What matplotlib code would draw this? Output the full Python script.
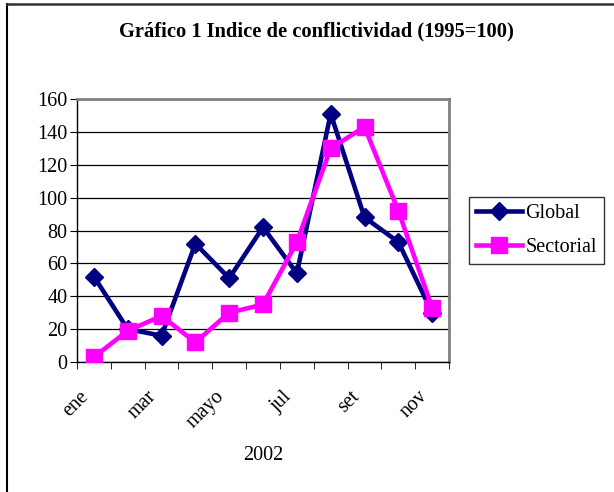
import numpy as np
import matplotlib.pyplot as plt
import matplotlib.transforms as mtransforms
from matplotlib.lines import Line2D

# datos
meses = ['ene', 'feb', 'mar', 'abr', 'mayo', 'jun', 'jul', 'ago', 'set', 'oct', 'nov']
global_idx = [52, 20, 16, 72, 51, 82, 54, 151, 88, 73, 30]
sectorial_idx = [3, 19, 28, 12, 30, 35, 73, 130, 143, 92, 33]

plt.rcParams['font.family'] = ['Liberation Serif', 'DejaVu Serif']
fs = 14.5

fig = plt.figure(figsize=(6.14, 4.92), dpi=100)
ax = fig.add_axes([0.1254, 0.2642, 0.606, 0.5346])

x = np.arange(len(meses))
ax.plot(x, global_idx, color='#000080', lw=3.3, marker='D', ms=9.5, label='Global', zorder=3)
ax.plot(x, sectorial_idx, color='#FF00FF', lw=3.3, marker='s', ms=11, label='Sectorial', zorder=4)

ax.set_xlim(-0.5, len(meses) - 0.5)
ax.set_ylim(0, 160)
ax.set_yticks(range(0, 161, 20))
ax.yaxis.grid(True, color='black', lw=0.9)
ax.set_axisbelow(True)

# ticks entre categorias, etiquetas cada dos meses
ax.set_xticks(x[::2])
ax.set_xticklabels(meses[::2], rotation=45, ha='right', va='center', rotation_mode='anchor', fontsize=fs)
ax.tick_params(axis='x', length=0, pad=23)
shift = mtransforms.ScaledTranslation(-8 / 100, 0, fig.dpi_scale_trans)
for lbl in ax.get_xticklabels():
    lbl.set_transform(lbl.get_transform() + shift)
ax.set_xticks(np.arange(-0.5, len(meses), 1), minor=True)
ax.tick_params(axis='x', which='minor', length=5, color='black')
ax.tick_params(axis='y', labelsize=fs, length=5, color='black', pad=2)

for s in ['top', 'right']:
    ax.spines[s].set_color('#808080')
    ax.spines[s].set_linewidth(2)
for s in ['left', 'bottom']:
    ax.spines[s].set_color('black')
    ax.spines[s].set_linewidth(1)

ax.set_xlabel('2002', fontsize=fs, labelpad=10)
fig.text(0.516, 0.935, 'Gráfico 1 Indice de conflictividad (1995=100)', ha='center', va='center',
         fontsize=14.8, fontweight='bold')

leg = ax.legend(loc='center left', bbox_to_anchor=(1.054, 0.5), fontsize=fs, frameon=True,
                fancybox=False, edgecolor='black', borderpad=0.35, handlelength=2.25,
                labelspacing=0.75, handletextpad=0.2, borderaxespad=0)
leg.get_frame().set_linewidth(1)

# marco del grafico (solo izquierda y arriba visibles)
fig.lines.append(Line2D([7 / 614, 7 / 614], [0, 1 - 4 / 492], transform=fig.transFigure,
                        color='black', lw=1.5))
fig.lines.append(Line2D([7 / 614, 1], [1 - 4 / 492, 1 - 4 / 492], transform=fig.transFigure,
                        color='#333333', lw=1.8))

plt.savefig('out.png', dpi=100)
